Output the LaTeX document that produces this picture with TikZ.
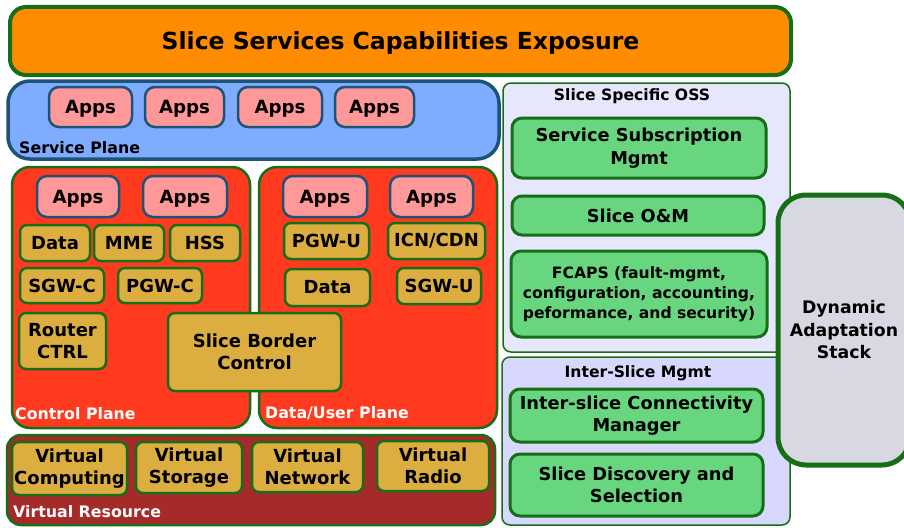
\documentclass[tikz,border=0pt]{standalone}
\usepackage{fontspec}
\setmainfont{DejaVu Sans}
\definecolor{cGreen}{RGB}{22,110,22}
\definecolor{cOrange}{RGB}{255,140,0}
\definecolor{cBlue}{RGB}{127,172,255}
\definecolor{cBlueB}{RGB}{28,84,120}
\definecolor{cPink}{RGB}{255,153,153}
\definecolor{cRed}{RGB}{255,58,30}
\definecolor{cGold}{RGB}{220,174,64}
\definecolor{cBrown}{RGB}{165,42,42}
\definecolor{cLav}{RGB}{230,230,252}
\definecolor{cLav2}{RGB}{216,216,255}
\definecolor{cLGreen}{RGB}{104,214,127}
\definecolor{cGrey}{RGB}{216,216,226}
\newcommand\mybox[7]{\node[#1, minimum width={#4-#2}, minimum height={#5-#3}] (#6) at ({(#2+#4)/2},{(#3+#5)/2}) {#7};}
\tikzset{
 base/.style={draw, inner sep=0pt, outer sep=0pt, align=center, font=\bfseries\fontsize{17.5}{22}\selectfont},
 topbar/.style={base, fill=cOrange, draw=cGreen, line width=4pt, rounded corners=16pt, text depth=0pt, font=\bfseries\fontsize{23.5}{28}\selectfont},
 splane/.style={base, fill=cBlue, draw=cBlueB, line width=3.5pt, rounded corners=22pt},
 apps/.style={base, fill=cPink, draw=cBlueB, line width=2.5pt, rounded corners=10pt, text depth=0pt, font=\bfseries\fontsize{18.2}{22}\selectfont},
 plane/.style={base, fill=cRed, draw=cGreen, line width=2.5pt, rounded corners=18pt},
 gold/.style={base, fill=cGold, draw=cGreen, line width=2.5pt, rounded corners=7pt, font=\bfseries\fontsize{18}{22.5}\selectfont},
 vres/.style={base, fill=cBrown, draw=cGreen, line width=2.5pt, rounded corners=14pt},
 oss/.style={base, fill=cLav, draw=cGreen, line width=1.5pt, rounded corners=8pt},
 oss2/.style={oss, fill=cLav2},
 gbox/.style={base, fill=cLGreen, draw=cGreen, line width=3pt, rounded corners=10pt, font=\bfseries\fontsize{17.8}{22.5}\selectfont},
 fbox/.style={gbox, font=\bfseries\fontsize{15.6}{20}\selectfont},
 dyn/.style={base, fill=cGrey, draw=cGreen, line width=5pt, rounded corners=28pt, font=\bfseries\fontsize{17.3}{22.5}\selectfont},
 wlabel/.style={text=white, font=\bfseries\fontsize{15.8}{18}\selectfont, anchor=base west, inner sep=0pt},
 blabel/.style={text=black, font=\bfseries\fontsize{15.8}{18}\selectfont, anchor=base west, inner sep=0pt},
 tlabel/.style={text=black, font=\bfseries\fontsize{15.6}{18}\selectfont, anchor=base, inner sep=0pt},
}
\begin{document}
\begin{tikzpicture}[x=1pt,y=-1pt]
\clip (0,0) rectangle (904,527);
\fill[white] (0,0) rectangle (904,527);
% top bar
\mybox{topbar}{10}{7}{791}{75}{top}{Slice Services Capabilities Exposure}
% service plane
\mybox{splane}{8}{81}{499}{159}{sp}{}
\node[blabel] (splbl) at (19,153) {Service Plane};
\mybox{apps}{49}{87}{132}{127}{sa1}{Apps}
\mybox{apps}{145}{87}{224}{127}{sa2}{Apps}
\mybox{apps}{238}{87}{322}{127}{sa3}{Apps}
\mybox{apps}{335}{87}{414}{127}{sa4}{Apps}
% control plane
\mybox{plane}{12}{167}{250}{428}{cp}{}
\node[wlabel] (cplbl) at (15,419) {Control Plane};
\mybox{apps}{37}{176}{119}{217}{ca1}{Apps}
\mybox{apps}{143}{176}{227}{217}{ca2}{Apps}
\mybox{gold}{20}{225}{90}{261}{cdata}{Data}
\mybox{gold}{94}{225}{164}{261}{mme}{MME}
\mybox{gold}{170}{225}{240}{261}{hss}{HSS}
\mybox{gold}{20}{268}{104}{303}{sgwc}{SGW-C}
\mybox{gold}{118}{268}{202}{303}{pgwc}{PGW-C}
\mybox{gold}{19}{313}{106}{369}{rctrl}{Router\\CTRL}
% data plane
\mybox{plane}{259}{167}{497}{428}{dp}{}
\node[wlabel] (dplbl) at (265,418) {Data/User Plane};
\mybox{apps}{283}{176}{367}{217}{da1}{Apps}
\mybox{apps}{390}{176}{473}{217}{da2}{Apps}
\mybox{gold}{284}{223}{369}{259}{pgwu}{PGW-U}
\mybox{gold}{388}{223}{485}{259}{icn}{ICN/CDN}
\mybox{gold}{285}{269}{370}{306}{ddata}{Data}
\mybox{gold}{397}{268}{481}{304}{sgwu}{SGW-U}
% slice border control (spans both planes)
\mybox{gold}{168}{313}{341}{391}{sbc}{Slice Border\\Control}
% virtual resource
\mybox{vres}{7}{435}{495}{525}{vr}{}
\node[wlabel] (vrlbl) at (13,517) {Virtual Resource};
\mybox{gold}{12}{442}{127}{495}{vc}{Virtual\\Computing}
\mybox{gold}{136}{442}{242}{493}{vs}{Virtual\\Storage}
\mybox{gold}{252}{442}{363}{492}{vn}{Virtual\\Network}
\mybox{gold}{377}{441}{489}{491}{vrad}{Virtual\\Radio}
% slice specific OSS
\mybox{oss}{503}{83}{790}{352}{ossbox}{}
\node[tlabel] (osslbl) at (632,100) {Slice Specific OSS};
\mybox{gbox}{512}{118}{766}{178}{ssm}{Service Subscription\\Mgmt}
\mybox{gbox}{512}{196}{764}{235}{som}{Slice O\&M}
\mybox{fbox}{511}{251}{767}{337}{fcaps}{FCAPS (fault-mgmt,\\configuration, accounting,\\peformance, and security)}
% inter-slice mgmt
\mybox{oss2}{502}{357}{790}{525}{ism}{}
\node[tlabel] (ismlbl) at (638,377) {Inter-Slice Mgmt};
\mybox{gbox}{510}{389}{763}{442}{iscm}{Inter-slice Connectivity\\Manager}
\mybox{gbox}{510}{454}{763}{516}{sds}{Slice Discovery and\\Selection}
% dynamic adaptation stack
\mybox{dyn}{778}{195}{910}{465}{das}{Dynamic\\Adaptation\\Stack}
\end{tikzpicture}
\end{document}
